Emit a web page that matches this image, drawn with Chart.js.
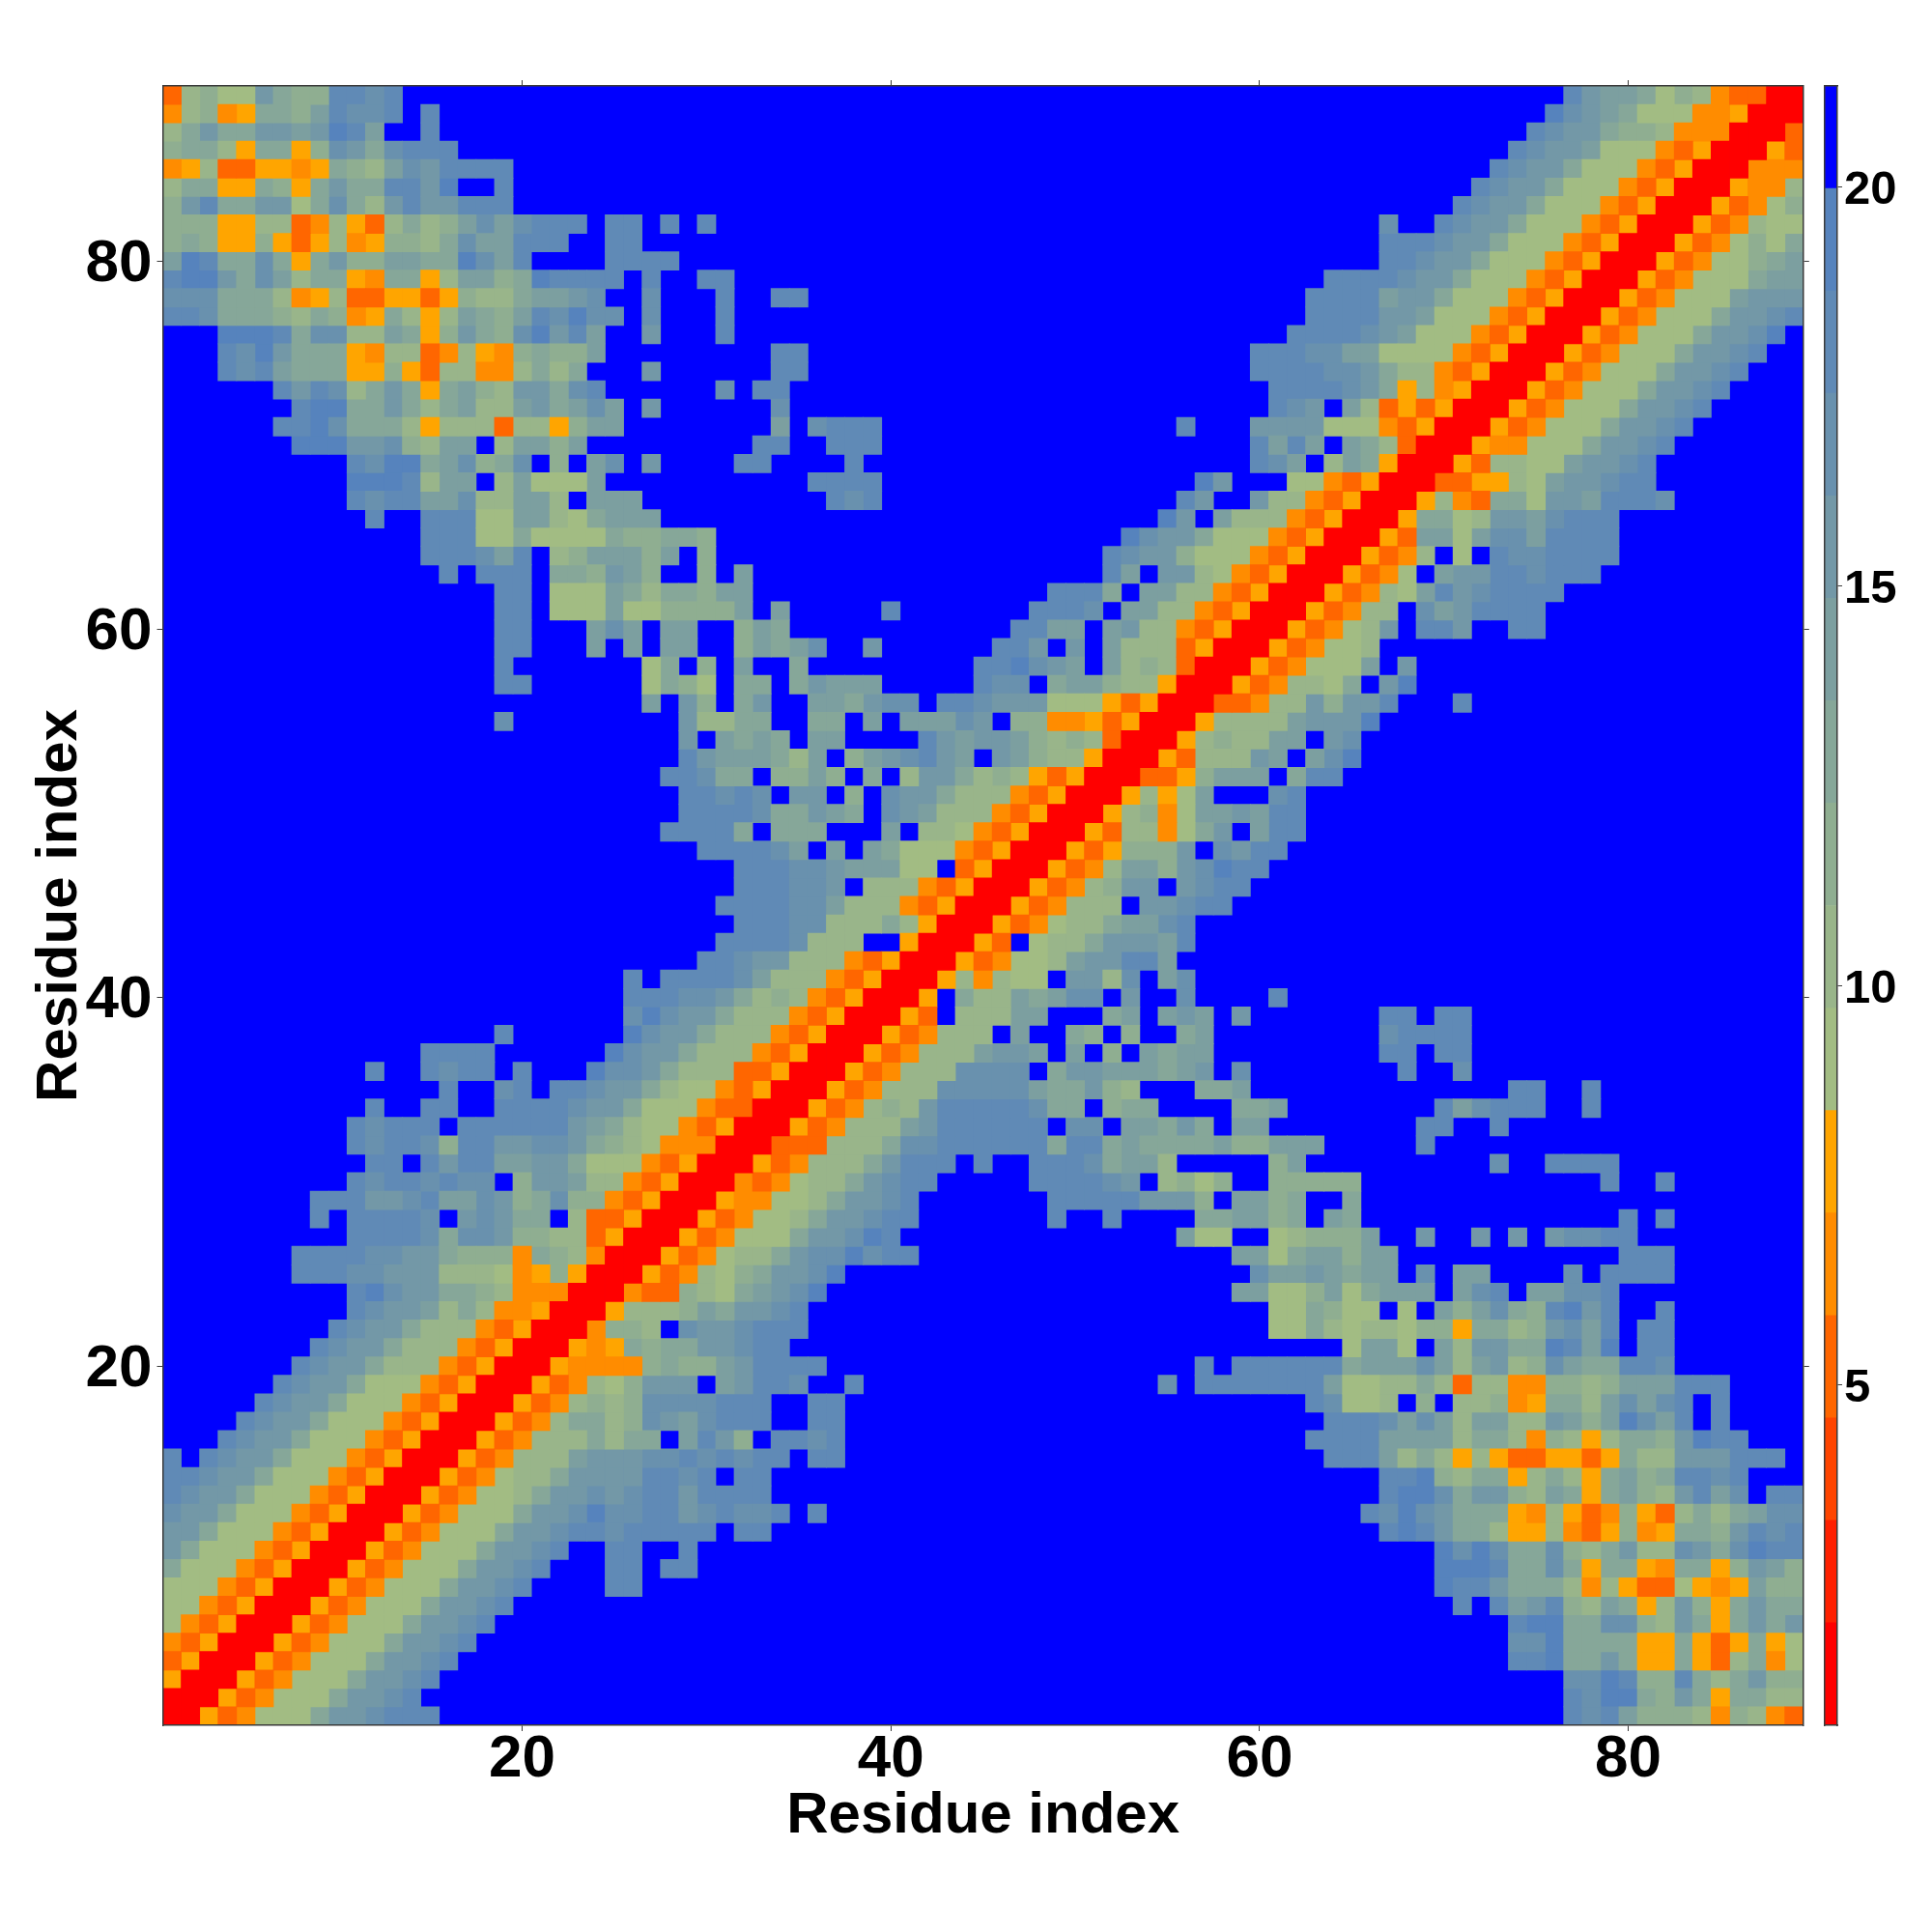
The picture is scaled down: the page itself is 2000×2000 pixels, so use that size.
<!DOCTYPE html>
<html><head><meta charset="utf-8">
<style>html,body{margin:0;padding:0;background:#fff}canvas{position:absolute;left:0;top:0}</style>
<script src="https://cdn.jsdelivr.net/npm/chart.js@4"></script>
</head><body>
<canvas id="map" width="2000" height="2000"></canvas>
<canvas id="bar" width="2000" height="2000"></canvas>
<script>
// Residue count and tick labels
const residueCount = 89;
const axisTicks = [20, 40, 60, 80];
const colorbarTicks = [5, 10, 15, 20];
const axisLabel = "Residue index";
// Colour-bar range and its 16 discrete colour levels (lowest first)
const colorbarRange = [0.74, 21.26];
const levelColors = ["#ff0000","#ff2000","#ff4500","#ff6600","#ff8c00","#ffa500","#a2bc83","#99b58a","#8fae91","#86a799","#7c9fa0","#7398a7","#6991ae","#608ab6","#5683bd","#0000ff"];
// Upper triangle of the symmetric distance map, top row (y=89) first.
// Each entry is "startResidue:levels" with one hex digit per cell; unlisted cells are level f.
const triangleRows = [
"1:37866b988ddcd 77:dbaa968743300",
"1:47845998adccd 15:d 76:ecba966644500",
"1:79b99bbabeda 15:d 75:dcbb988744400",
"1:899759958cb9cddd 74:dcbba66643500",
"1:457335545987acbdddd 73:dcbb966643500",
"1:799559859b99ddbeffd 72:dcbb966643500",
"1:8bd99bb69c97bdbbddd 71:dcbb966643500",
"1:8885577347537978acacddd 25:dd 28:d 30:d 67:c 70:dcbb966643500",
"1:8985585357458879caaddd 25:dd 67:dddcbb966643500",
"1:aed99c959b88aa99ecad 25:dddd 67:ddcbb966643500",
"1:deeb9ca799549957aa89edddd 27:d 30:dd 64:ddddcbb966643500",
"1:ccc99974573355358779aabc 27:c 31:d 34:dd 63:ddddabb966643500",
"1:ddc9998798459757a98adcecc 27:c 31:d 63:ddddbba66643500",
"4:eeed9cc77a958b98cebda 27:b 31:d 62:ddddcba66643500",
"4:dceb9995477347548988a 34:dd 60:dddccaa666643500",
"4:dcda9995585377447979 27:b 34:dd 60:ddddccb97743500",
"7:dbdc79b959a87bb9cd 31:c 33:dd 61:ddddcb9574500",
"8:dee99b979a77ab9aca 27:b 34:c 61:dcbfa7353500",
"7:ddec9997577737758aa 34:a 36:cddd 56:d 60:bbbb66643500",
"8:eeebbc87aaf7aa8a 33:dd 37:ddd 60:dadafa97300",
"11:dcee9ac89cf8fac 27:b 32:dd 38:d 60:dcaf7a9500",
"11:eeed7aaf7a666a 36:dddd 57:eb 62:6643500",
"11:dcddaac77aa7faaa 37:dcd 56:db 60:b7743500",
"12:d 15:ddd66aa769aaa 55:ebfa77743500",
"15:ddd6696666988998 53:ecbb966643500",
"15:dddcadf78aaa8af8 52:dcbb866643500",
"16:d 18:ddd 22:998ba8 30:8 32:a 52:dafbb7643500",
"19:dd 22:666a97998aa 49:ddd9faa7743500",
"19:dd 22:666a668888a 34:a 40:d 48:dddcfaa7743500",
"19:dd 24:aca 28:aa 32:8a9 47:ddaafab7743500",
"19:dd 24:a 26:a 28:aa 32:8a9ac 39:b 46:ddbfbfa7773500",
"19:d 27:69 30:8 32:a 35:9 45:ddecbafa787300",
"19:dd 27:6986 32:99 35:9baaa 45:dccf9aa877500",
"27:a 29:b8 32:9b 36:aa9bcc 43:ddcbbb66653500",
"19:c 29:b7799 36:99 39:a 41:aaacbf884453500",
"29:b 31:a9a9 36:aa 42:dbabba8787300",
"29:dbaaa97a 38:8abcdba 46:ba877500",
"28:ddc99 34:88a8 39:9 41:7bb978753500",
"29:ddcdc 35:bb 38:8 40:cbb977743500",
"29:ddddc99ba9 40:cba77743500",
"28:dddd9 34:999 40:a 42:77643500",
"30:ddddca 37:a 39:a966643500",
"32:dddccbaaa66 44:3500",
"32:dddccb 39:77743500",
"31:ddddcca77743500",
"32:dddcc77797500",
"31:ddddc777 41:500",
"30:ddcbb77743500",
"26:d 28:ddddca77743500",
"26:dddccb978743500",
"26:cecbb977743500",
"19:d 26:ecbb977743500",
"15:dddd 25:ecbb977743500",
"12:d 15:dcdd 20:d 24:eccb977733500",
"16:d 19:cd 22:ddcbb976643500",
"12:d 15:dd 19:ddddcbb966643300",
"11:dcdddfddddddba976643500",
"11:dcddc8ddbbccb987644400",
"12:dd 15:dbddaabb966643500",
"11:dcddcdccf8bba7743500",
"9:dddbbcdaacb89c8843500",
"9:dfddddcfbcb99f733500",
"11:ddddc9ccb88773500",
"8:ddddccbb98884987400",
"8:dddccbbb7776458500",
"11:decbb998744400",
"11:dcbba79744500",
"10:dcbb977743500",
"9:dcbb977743500",
"8:dcbb977743500",
"7:dcbb966643500",
"6:dcbb966643500",
"5:dcbb966643500",
"4:dcbb966643500",
"1:dfdcbb966643500",
"1:ddcbb966643500",
"1:dcbb966643500",
"1:cbb966643500",
"1:bb966643500",
"1:b966643500",
"1:966643500",
"1:66643500",
"1:6643500",
"1:643500",
"1:43500",
"1:3500",
"1:500",
"1:00",
"1:0"
];

const FONT = "'Liberation Sans'";
const AREA = {left:168.5, right:1866.8, top:89, bottom:1786};
const BAR = {left:1889, right:1902, top:89, bottom:1786};
const LINE = "#3a3a3a";

// Expand the stored triangle into the full symmetric matrix of levels
const grid = Array.from({length:residueCount}, () => new Array(residueCount).fill(15));
triangleRows.forEach((row, t) => {
  const y = residueCount - t;
  row.split(" ").forEach(seg => {
    const [start, cells] = seg.split(":");
    [...cells].forEach((ch, i) => {
      const x = Number(start) + i, lv = parseInt(ch, 16);
      grid[y-1][x-1] = lv; grid[x-1][y-1] = lv;
    });
  });
});
const binWidth = (colorbarRange[1] - colorbarRange[0]) / levelColors.length;
const datasets = levelColors.map((color, lv) => ({
  data: [], backgroundColor: color, borderWidth: 0, pointStyle: "rect", clip: 0, showLine: false,
  pointRadius: c => (c.chart.scales.x.width / residueCount + 0.8) / Math.SQRT2,
  pointHoverRadius: 0
}));
grid.forEach((r, yi) => r.forEach((lv, xi) => datasets[lv].data.push({x: xi+1, y: yi+1, v: colorbarRange[0] + (lv+0.5)*binWidth})));

const setTicks = vals => ax => { ax.ticks = vals.map(v => ({value: v})); };
const fixW = w => s => { s.width = w; };
const fixH = h => s => { s.height = h; };
const tickFont = {family: FONT, weight: "bold", size: 62};
const titleFont = {family: FONT, weight: "bold", size: 60};
const edge = {display: true, color: LINE, width: 1.5, z: 1};
const gridOpts = {display: true, drawOnChartArea: false, drawTicks: true, tickLength: 6, tickWidth: 1, tickColor: LINE};
const axisBase = {type: "linear", min: 0.5, max: residueCount + 0.5, border: edge, grid: gridOpts, afterBuildTicks: setTicks(axisTicks)};
const areaFill = {id: "areaFill", beforeDatasetsDraw(chart) {
  const a = chart.chartArea, c = chart.ctx;
  c.save(); c.fillStyle = levelColors[levelColors.length-1];
  c.fillRect(a.left, a.top, a.right-a.left, a.bottom-a.top); c.restore();
}};

new Chart(document.getElementById("map"), {
  type: "scatter",
  data: {datasets},
  plugins: [areaFill],
  options: {
    responsive: false, animation: false, devicePixelRatio: 1, events: [],
    layout: {padding: 0},
    plugins: {legend: {display: false}, tooltip: {enabled: false}},
    scales: {
      x: {...axisBase, position: "bottom", afterFit: fixH(2000 - AREA.bottom),
        ticks: {autoSkip: false, maxRotation: 0, color: "#000", font: tickFont, padding: -7},
        title: {display: true, text: axisLabel, color: "#000", font: titleFont, padding: {top: 0, bottom: 84}}},
      y: {...axisBase, position: "left", afterFit: fixW(AREA.left),
        ticks: {autoSkip: false, color: "#000", font: tickFont, padding: 5, labelOffset: 3.5},
        title: {display: true, text: axisLabel, color: "#000", font: titleFont, padding: {top: 26, bottom: 0}}},
      x2: {...axisBase, position: "top", afterFit: fixH(AREA.top), ticks: {display: false}},
      y2: {...axisBase, position: "right", afterFit: fixW(2000 - AREA.right), ticks: {display: false}}
    }
  }
});

const plain = {display: true, color: LINE, width: 1.5, z: 1};
new Chart(document.getElementById("bar"), {
  type: "bar",
  data: {
    labels: ["level"],
    datasets: levelColors.map((color, lv) => ({
      data: [[colorbarRange[0] + lv*binWidth, colorbarRange[0] + (lv+1)*binWidth]],
      backgroundColor: color, borderWidth: 0, barPercentage: 1, categoryPercentage: 1, grouped: false
    }))
  },
  options: {
    responsive: false, animation: false, devicePixelRatio: 1, events: [],
    layout: {padding: {left: BAR.left}},
    plugins: {legend: {display: false}, tooltip: {enabled: false}},
    scales: {
      x: {position: "bottom", border: plain, grid: {display: false}, ticks: {display: false}, afterFit: fixH(2000 - BAR.bottom)},
      xt: {position: "top", type: "category", labels: ["level"], border: plain, grid: {display: false}, ticks: {display: false}, afterFit: fixH(BAR.top)},
      y: {type: "linear", position: "right", min: colorbarRange[0], max: colorbarRange[1],
        border: plain, grid: {display: true, drawOnChartArea: false, tickLength: 5, tickWidth: 1, tickColor: LINE},
        afterBuildTicks: setTicks(colorbarTicks), afterFit: fixW(2000 - BAR.right),
        ticks: {color: "#000", font: {family: FONT, weight: "bold", size: 49}, padding: 2, labelOffset: 4}},
      yl: {type: "linear", position: "left", min: colorbarRange[0], max: colorbarRange[1],
        border: plain, grid: {display: false}, ticks: {display: false}, afterFit: fixW(0)}
    }
  }
});
</script>
</body></html>
